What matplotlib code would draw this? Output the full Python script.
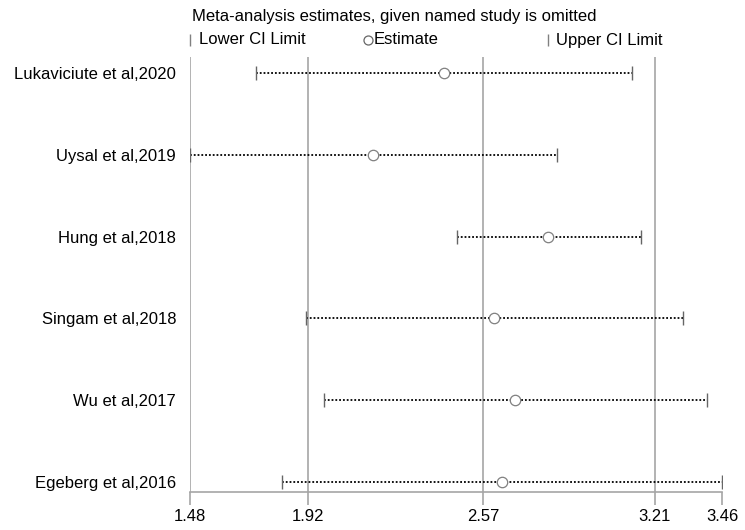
import matplotlib
matplotlib.use("Agg")
import matplotlib.pyplot as plt

plt.rcParams['font.family'] = ['Liberation Sans', 'DejaVu Sans']

studies = ["Lukaviciute et al,2020", "Uysal et al,2019", "Hung et al,2018",
           "Singam et al,2018", "Wu et al,2017", "Egeberg et al,2016"]
estimate = [2.426, 2.160, 2.814, 2.612, 2.689, 2.640]
lower = [1.725, 1.48, 2.474, 1.913, 1.978, 1.824]
upper = [3.126, 2.846, 3.160, 3.316, 3.405, 3.46]
ticks = [1.48, 1.92, 2.57, 3.21, 3.46]
ref_lines = [1.48, 1.92, 2.57, 3.21]

W, H = 745, 530
fig = plt.figure(figsize=(W / 100, H / 100), dpi=100)
ax = fig.add_axes([190 / W, 1 - 492 / H, 532 / W, 435 / H])

n = len(studies)
ypos = list(range(n, 0, -1))

for x in ref_lines:
    ax.axvline(x, color='#a5a5a5', lw=1.2, zorder=1)

for y, lo, est, hi in zip(ypos, lower, estimate, upper):
    ax.plot([lo, hi], [y, y], color='black', lw=1.3, ls=(0, (1, 1.1)), zorder=2)
    ax.plot([lo, hi], [y, y], ls='none', marker='|', ms=10, mew=1.0,
            color='#666666', zorder=3)
    ax.plot(est, y, ls='none', marker='o', ms=7.5, mfc='white', mew=0.9,
            mec='#808080', zorder=4)

ax.set_xlim(1.48, 3.46)
ax.set_ylim(0.878, 6.196)
ax.set_xticks(ticks)
ax.set_xticklabels([f"{t:.2f}" for t in ticks])
ax.set_yticks(ypos)
ax.set_yticklabels(studies)
for s in ['top', 'right', 'left']:
    ax.spines[s].set_visible(False)
ax.spines['bottom'].set_color('#a5a5a5')
ax.spines['bottom'].set_linewidth(1.2)
ax.tick_params(axis='x', length=9, width=1.2, color='#a5a5a5', labelsize=12, pad=3)
ax.tick_params(axis='y', length=0, labelsize=12, pad=10)

# legend block
fig.text(192 / W, 1 - 16 / H, "Meta-analysis estimates, given named study is omitted",
         fontsize=12, va='center', ha='left')
ly = 1 - 40 / H
fig.lines.append(plt.Line2D([190 / W], [ly], transform=fig.transFigure, ls='none',
                            marker='|', ms=9, mew=1.0, color='#808080'))
fig.text(199 / W, ly, "Lower CI Limit", fontsize=12, va='center', ha='left')
fig.lines.append(plt.Line2D([368 / W], [ly], transform=fig.transFigure, ls='none',
                            marker='o', ms=6.5, mfc='white', mew=0.9, mec='#666666'))
fig.text(374 / W, ly, "Estimate", fontsize=12, va='center', ha='left')
fig.lines.append(plt.Line2D([548 / W], [ly], transform=fig.transFigure, ls='none',
                            marker='|', ms=9, mew=1.0, color='#808080'))
fig.text(556 / W, ly, "Upper CI Limit", fontsize=12, va='center', ha='left')

fig.savefig("out.png", dpi=100)
